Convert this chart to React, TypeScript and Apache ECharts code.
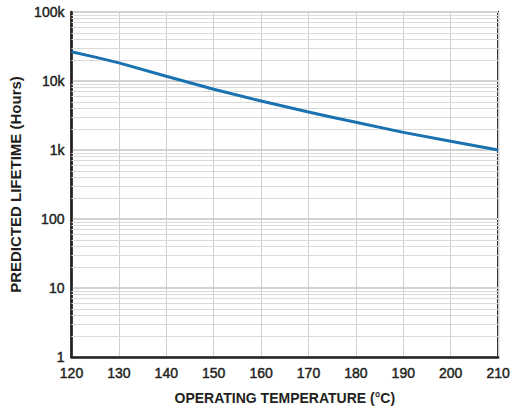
import React, { useEffect, useRef } from "react";
import * as echarts from "echarts";

const temperatures = [120, 125, 130, 140, 150, 160, 170, 175, 180, 190, 200, 210];
const lifetimeHours = [26500, 22200, 18300, 11700, 7600, 5140, 3560, 2980, 2520, 1800, 1335, 1000];
const yTickLabels: Record<number, string> = { 1: "1", 10: "10", 100: "100", 1000: "1k", 10000: "10k", 100000: "100k" };
const decades = [1, 10, 100, 1000, 10000];
const minorMultipliers = [2, 3, 4, 5, 6, 7, 8, 9];

const INK = "#231f20";
const FONT = "'Liberation Sans', Arial, Helvetica, sans-serif";

export default function App() {
  const ref = useRef<HTMLDivElement>(null);
  useEffect(() => {
    document.body.style.margin = "0";
    const chart = echarts.init(ref.current!, undefined, { renderer: "svg" });
    const minorValues: number[] = [];
    decades.forEach((d) => minorMultipliers.forEach((m) => minorValues.push(d * m)));
    const tickText = {
      fontFamily: FONT,
      fontSize: 14,
      fontWeight: "normal",
      color: INK,
      textBorderColor: INK,
      textBorderWidth: 0.45,
    };
    chart.setOption({
      animation: false,
      backgroundColor: "#ffffff",
      grid: { left: 70, right: 13, top: 12, bottom: 53, show: true, borderColor: INK, borderWidth: 2, backgroundColor: "transparent" },
      xAxis: {
        type: "value",
        min: 120,
        max: 210,
        interval: 10,
        name: "OPERATING TEMPERATURE (°C)",
        nameLocation: "middle",
        nameGap: 34,
        nameTextStyle: { fontFamily: FONT, fontSize: 14, fontWeight: "bold", color: INK },
        axisLine: { show: true, lineStyle: { color: INK, width: 2.5 } },
        axisTick: { show: false },
        axisLabel: { ...tickText, margin: 9 },
        splitLine: { show: true, lineStyle: { color: "#cfcfcf", width: 1 } },
      },
      yAxis: {
        type: "log",
        logBase: 10,
        min: 1,
        max: 100000,
        name: "PREDICTED LIFETIME (Hours)",
        nameLocation: "middle",
        nameGap: 46,
        nameRotate: 90,
        nameTextStyle: { fontFamily: FONT, fontSize: 15, fontWeight: "bold", color: INK },
        axisLine: { show: true, lineStyle: { color: INK, width: 2.5 } },
        axisTick: { show: false },
        axisLabel: {
          ...tickText,
          margin: 7,
          formatter: (v: number) => yTickLabels[Math.round(v)] ?? "",
        },
        splitLine: { show: true, lineStyle: { color: "#d2d2d2", width: 2 } },
      },
      series: [
        {
          type: "line",
          data: [],
          z: 1,
          silent: true,
          markLine: {
            silent: true,
            symbol: "none",
            label: { show: false },
            lineStyle: { color: "#dadada", width: 1, type: "solid" },
            data: minorValues.map((v) => ({ yAxis: v })),
          },
        },
        {
          type: "line",
          z: 5,
          data: temperatures.map((t, i) => [t, lifetimeHours[i]]),
          showSymbol: false,
          smooth: false,
          lineStyle: { color: "#1a72b0", width: 3 },
        },
      ],
    });
    return () => chart.dispose();
  }, []);
  return <div ref={ref} style={{ position: "absolute", left: 0, top: 0, width: 513, height: 410 }} />;
}
